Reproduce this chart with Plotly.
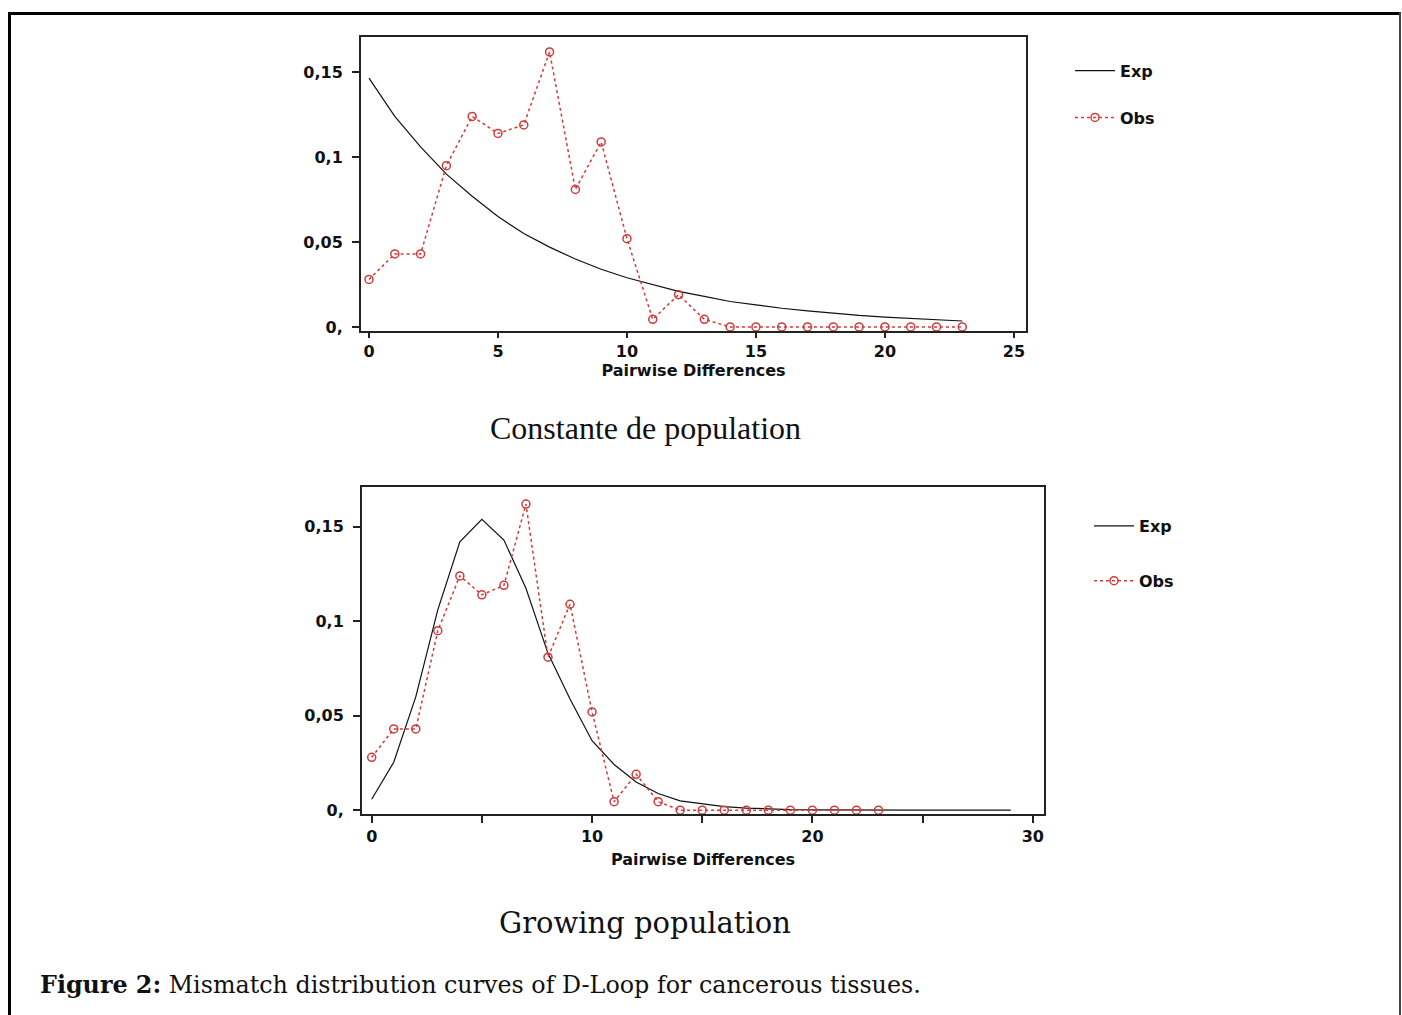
import plotly.graph_objects as go

# figure fills the whole 1402x1015 page (body margin removed after load)
OFF = 0
W, H = 1402, 1015

# ---- data ----
obs_x = list(range(0, 24))
obs_y = [0.028, 0.043, 0.043, 0.095, 0.124, 0.114, 0.119, 0.162, 0.081, 0.109,
         0.052, 0.0045, 0.019, 0.0045, 0, 0, 0, 0, 0, 0, 0, 0, 0, 0]

exp_const_x = list(range(0, 24))
exp_const_y = [0.1465, 0.124, 0.106, 0.090, 0.077, 0.065, 0.055, 0.047, 0.040, 0.034,
               0.029, 0.025, 0.021, 0.018, 0.015, 0.013, 0.011, 0.0095, 0.008, 0.0068,
               0.0058, 0.0049, 0.0042, 0.0035]

exp_grow_x = list(range(0, 30))
exp_grow_y = [0.0058, 0.0254, 0.060, 0.106, 0.142, 0.154, 0.143, 0.1175, 0.083, 0.0588,
              0.0368, 0.0242, 0.0149, 0.0088, 0.0049, 0.0032, 0.0019, 0.0011, 0.0006, 0.0003,
              0.0002, 0.0001, 0.0001, 0, 0, 0, 0, 0, 0, 0]

y_tickvals = [0, 0.05, 0.1, 0.15]
y_ticktext = ["0,", "0,05", "0,1", "0,15"]
top_x_ticks = [0, 5, 10, 15, 20, 25]
top_x_text = ["0", "5", "10", "15", "20", "25"]
bot_x_ticks = [0, 5, 10, 15, 20, 25, 30]
bot_x_text = ["0", "", "10", "", "20", "", "30"]

RED = "#d23a3a"
SANS = "DejaVu Sans"


def px(x):
    return (x - OFF) / W


def py(y):
    return 1 - (y - OFF) / H


fig = go.Figure()

# top chart
fig.add_trace(go.Scatter(x=exp_const_x, y=exp_const_y, mode="lines", name="Exp",
                         line=dict(color="#111", width=1.2), xaxis="x", yaxis="y",
                         legend="legend", legendgroup="a"))
fig.add_trace(go.Scatter(x=obs_x, y=obs_y, mode="lines+markers", name="Obs",
                         line=dict(color=RED, width=1.5, dash="3px,3px"),
                         marker=dict(symbol="circle-open", size=8, color=RED, line=dict(width=1.5, color=RED)),
                         xaxis="x", yaxis="y", legend="legend", legendgroup="b"))
# bottom chart
fig.add_trace(go.Scatter(x=exp_grow_x, y=exp_grow_y, mode="lines", name="Exp",
                         line=dict(color="#111", width=1.2), xaxis="x2", yaxis="y2",
                         legend="legend2", legendgroup="c"))
fig.add_trace(go.Scatter(x=obs_x, y=obs_y, mode="lines+markers", name="Obs",
                         line=dict(color=RED, width=1.5, dash="3px,3px"),
                         marker=dict(symbol="circle-open", size=8, color=RED, line=dict(width=1.5, color=RED)),
                         xaxis="x2", yaxis="y2", legend="legend2", legendgroup="d"))

axis_common = dict(showline=True, mirror=True, linecolor="#222", linewidth=2,
                   showgrid=False, zeroline=False, ticks="outside", tickcolor="#222",
                   tickfont=dict(family=SANS, size=16, color="#111", weight="bold"))
title_font = dict(family=SANS, size=16, color="#111", weight="bold")
legend_font = dict(family=SANS, size=16, color="#111", weight="bold")

fig.update_layout(
    width=W, height=H, margin=dict(l=0, r=0, t=0, b=0),
    paper_bgcolor="white", plot_bgcolor="white",
    xaxis=dict(domain=[px(361), px(1026)], range=[-0.31, 25.47], anchor="y",
               tickvals=top_x_ticks, ticktext=top_x_text, ticklen=5, tickwidth=1.5,
               title=dict(text="Pairwise Differences", standoff=2, font=title_font),
               **axis_common),
    yaxis=dict(domain=[py(333), py(37.5)], range=[-0.0024, 0.1706], anchor="x",
               tickvals=y_tickvals, ticktext=y_ticktext, ticklen=7, tickwidth=1.5,
               ticklabelstandoff=6, **axis_common),
    xaxis2=dict(domain=[px(362), px(1044)], range=[-0.44, 30.51], anchor="y2",
                tickvals=bot_x_ticks, ticktext=bot_x_text, ticklen=7, tickwidth=1.5,
                title=dict(text="Pairwise Differences", standoff=8, font=title_font),
                **axis_common),
    yaxis2=dict(domain=[py(819), py(490)], range=[-0.0021, 0.171], anchor="x2",
                tickvals=y_tickvals, ticktext=y_ticktext, ticklen=7, tickwidth=1.5,
                ticklabelstandoff=6, **axis_common),
    legend=dict(x=px(1070), y=py(54), xanchor="left", yanchor="top",
                traceorder="grouped", tracegroupgap=23, bgcolor="rgba(0,0,0,0)",
                font=legend_font, itemwidth=40),
    legend2=dict(x=px(1089), y=py(512), xanchor="left", yanchor="top",
                 traceorder="grouped", tracegroupgap=31, bgcolor="rgba(0,0,0,0)",
                 font=legend_font, itemwidth=40),
    shapes=[
        dict(type="line", xref="paper", yref="paper", x0=px(8), x1=px(1401),
             y0=py(13.5), y1=py(13.5), line=dict(color="black", width=3)),
        dict(type="line", xref="paper", yref="paper", x0=px(9.5), x1=px(9.5),
             y0=py(12), y1=-0.02, line=dict(color="black", width=3)),
        dict(type="line", xref="paper", yref="paper", x0=px(1400), x1=px(1400),
             y0=py(12), y1=-0.02, line=dict(color="#444", width=2)),
    ],
    annotations=[
        dict(text="Constante de population", xref="paper", yref="paper",
             x=px(645), y=py(431), xanchor="center", yanchor="middle", showarrow=False,
             font=dict(family="Liberation Serif", size=32, color="#111")),
        dict(text="Growing population", xref="paper", yref="paper",
             x=px(645), y=py(928), xanchor="center", yanchor="middle", showarrow=False,
             font=dict(family="DejaVu Serif", size=29, color="#111")),
        dict(text="<b>Figure 2:</b> Mismatch distribution curves of D-Loop for cancerous tissues.",
             xref="paper", yref="paper", x=px(38), y=py(991), xanchor="left", yanchor="middle",
             showarrow=False, font=dict(family="DejaVu Serif", size=23.8, color="#111")),
    ],
)

fig.write_html("out.html", config={"displayModeBar": False},
               post_script="document.body.style.margin='0';document.body.style.overflow='hidden';")
